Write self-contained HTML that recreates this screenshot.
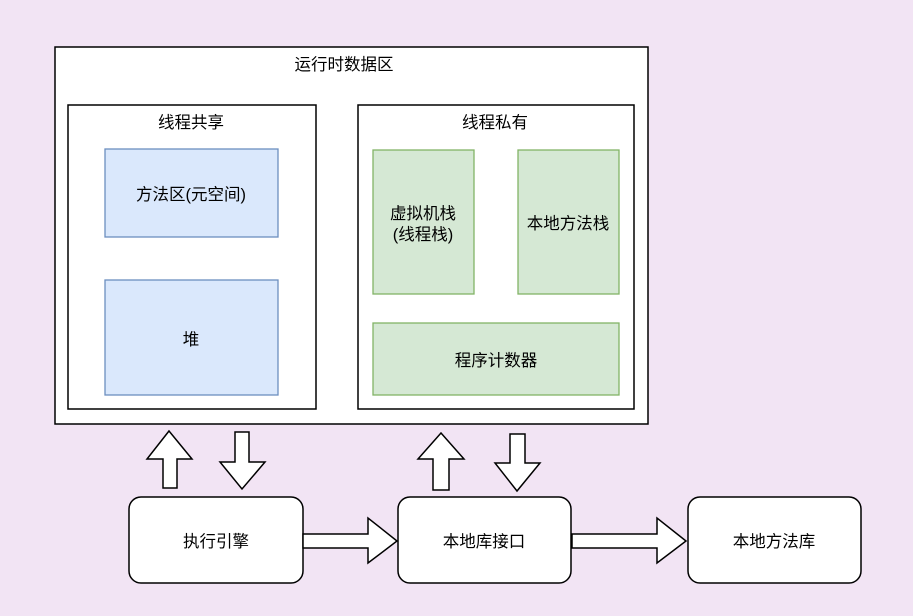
<!DOCTYPE html>
<html><head><meta charset="utf-8"><style>
html,body{margin:0;padding:0;background:#f2e4f4;}
svg{display:block;font-family:"Liberation Sans","Noto Sans CJK SC",sans-serif;}
text{font-size:16.5px;fill:#000;text-anchor:middle;}
</style></head><body>
<svg width="913" height="616" viewBox="0 0 913 616">
<rect width="913" height="616" fill="#f2e4f4"/>
<g stroke="#000" stroke-width="1.5" fill="#fff">
<rect x="55" y="47" width="593" height="377"/>
<rect x="68" y="105" width="248" height="304"/>
<rect x="358" y="105" width="276" height="304"/>
</g>
<g stroke="#6c8ebf" stroke-width="1.3" fill="#dae8fc">
<rect x="105" y="149" width="173" height="88"/>
<rect x="105" y="280" width="173" height="115"/>
</g>
<g stroke="#82b366" stroke-width="1.3" fill="#d5e8d4">
<rect x="373" y="150" width="101" height="144"/>
<rect x="518" y="150" width="101" height="144"/>
<rect x="373" y="323" width="246" height="72"/>
</g>
<g stroke="#000" stroke-width="1.5" fill="#fff">
<rect x="129" y="497" width="174" height="86" rx="12"/>
<rect x="398" y="497" width="173" height="86" rx="12"/>
<rect x="688" y="497" width="173" height="86" rx="12"/>
</g>
<g stroke="#000" stroke-width="1.5" fill="#fff" stroke-linejoin="miter">
<polygon points="169,431 192,459 177,459 177,488 163,488 163,459 147,459"/>
<polygon points="235,432 249,432 249,462 265,462 242,489 220,462 235,462"/>
<polygon points="441,433 464,459 449,459 449,490 433,490 433,459 418,459"/>
<polygon points="510,434 525,434 525,463 540,463 517,491 495,463 510,463"/>
<polygon points="303,534 368,534 368,518 397,541 368,563 368,548 303,548"/>
<polygon points="572,534 657,534 657,518 686,541 657,563 657,548 572,548"/>
</g>
<text x="344" y="70">运行时数据区</text>
<text x="191" y="128">线程共享</text>
<text x="495" y="128">线程私有</text>
<text x="191" y="200">方法区(元空间)</text>
<text x="191" y="345">堆</text>
<text x="423" y="219">虚拟机栈</text>
<text x="423" y="240">(线程栈)</text>
<text x="568" y="229">本地方法栈</text>
<text x="496" y="366">程序计数器</text>
<text x="216" y="547">执行引擎</text>
<text x="484" y="547">本地库接口</text>
<text x="774" y="547">本地方法库</text>
</svg>
</body></html>
